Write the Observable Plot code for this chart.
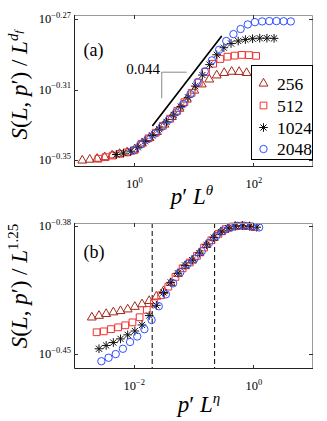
<!DOCTYPE html>
<html><head><meta charset="utf-8">
<script src="https://cdn.jsdelivr.net/npm/d3@7"></script>
<script src="https://cdn.jsdelivr.net/npm/@observablehq/plot@0.6"></script>
<style>
html,body{margin:0;padding:0;background:#fff;}
#wrap{width:327px;height:421px;overflow:hidden;background:#fff;}
#wrap svg{display:block;overflow:visible;}
</style></head><body><div id="wrap"></div>
<script>
const seriesNames = ["256", "512", "1024", "2048"];
const seriesColors = ["#a3281a", "#f03232", "#111111", "#3050ff"];

// Panel (a): log10(p' L^theta) and log10(S / L^df)
const a256x = [-0.87,-0.745,-0.62,-0.495,-0.37,-0.245,-0.12,0.005,0.13,0.255,0.38,0.505,0.63,0.755,0.88,1.005,1.13,1.255,1.38,1.505,1.63,1.755,1.88];
const a256y = [-0.3500,-0.3495,-0.3490,-0.3481,-0.3471,-0.3462,-0.3454,-0.3438,-0.3403,-0.3372,-0.3338,-0.3296,-0.3253,-0.3206,-0.3154,-0.3103,-0.3068,-0.3040,-0.3017,-0.3003,-0.2996,-0.2997,-0.3003];
const a512x = [-0.60,-0.48,-0.36,-0.24,-0.12,0.00,0.12,0.24,0.36,0.48,0.60,0.72,0.84,0.96,1.08,1.20,1.32,1.44,1.56,1.68,1.80,1.92,2.04];
const a512y = [-0.3490,-0.3481,-0.3472,-0.3462,-0.3454,-0.3442,-0.3405,-0.3374,-0.3342,-0.3303,-0.3263,-0.3218,-0.3169,-0.3116,-0.3058,-0.2997,-0.2951,-0.2924,-0.2911,-0.2905,-0.2901,-0.2902,-0.2906];
const a1024x = [-0.30,-0.18,-0.06,0.06,0.18,0.30,0.42,0.54,0.66,0.78,0.90,1.02,1.14,1.26,1.38,1.50,1.62,1.74,1.86,1.98,2.10,2.22,2.34];
const a1024y = [-0.3466,-0.3458,-0.3447,-0.3425,-0.3391,-0.3358,-0.3322,-0.3281,-0.3242,-0.3194,-0.3142,-0.3078,-0.3015,-0.2956,-0.2900,-0.2860,-0.2836,-0.2822,-0.2814,-0.2809,-0.2806,-0.2806,-0.2807];
const a2048x = [-0.02,0.10,0.22,0.34,0.46,0.58,0.70,0.82,0.94,1.06,1.18,1.30,1.42,1.54,1.66,1.78,1.90,2.02,2.14,2.26,2.38,2.50,2.62];
const a2048y = [-0.3444,-0.3411,-0.3380,-0.3348,-0.3309,-0.3268,-0.3227,-0.3179,-0.3124,-0.3055,-0.2994,-0.2932,-0.2872,-0.2822,-0.2783,-0.2754,-0.2728,-0.2715,-0.2711,-0.2709,-0.2709,-0.2710,-0.2711];

// Panel (b): log10(p' L^eta) and log10(S / L^1.25)
const b256x = [-2.71,-2.59,-2.47,-2.35,-2.23,-2.11,-1.99,-1.87,-1.75,-1.63,-1.51,-1.39,-1.27,-1.15,-1.03,-0.91,-0.79,-0.67,-0.55,-0.43,-0.31,-0.19,-0.07];
const b256y = [-0.4296,-0.4287,-0.4277,-0.4268,-0.4261,-0.4252,-0.4238,-0.4224,-0.4206,-0.4182,-0.4152,-0.4108,-0.4058,-0.4016,-0.3985,-0.3945,-0.3900,-0.3862,-0.3830,-0.3810,-0.3800,-0.3798,-0.3802];
const b512x = [-2.63,-2.51,-2.39,-2.27,-2.15,-2.03,-1.91,-1.79,-1.67,-1.55,-1.43,-1.31,-1.19,-1.07,-0.95,-0.83,-0.71,-0.59,-0.47,-0.35,-0.23,-0.11,0.01];
const b512y = [-0.4377,-0.4372,-0.4360,-0.4350,-0.4339,-0.4323,-0.4295,-0.4255,-0.4218,-0.4175,-0.4128,-0.4075,-0.4028,-0.3996,-0.3960,-0.3915,-0.3875,-0.3840,-0.3814,-0.3800,-0.3796,-0.3798,-0.3803];
const b1024x = [-2.59,-2.47,-2.35,-2.23,-2.11,-1.99,-1.87,-1.75,-1.63,-1.51,-1.39,-1.27,-1.15,-1.03,-0.91,-0.79,-0.67,-0.55,-0.43,-0.31,-0.19,-0.07,0.05];
const b1024y = [-0.4467,-0.4449,-0.4433,-0.4413,-0.4391,-0.4370,-0.4337,-0.4286,-0.4230,-0.4160,-0.4105,-0.4055,-0.4012,-0.3984,-0.3945,-0.3900,-0.3861,-0.3830,-0.3809,-0.3798,-0.3796,-0.3799,-0.3804];
const b2048x = [-2.55,-2.43,-2.31,-2.19,-2.07,-1.95,-1.83,-1.71,-1.59,-1.47,-1.35,-1.23,-1.11,-0.99,-0.87,-0.75,-0.63,-0.51,-0.39,-0.27,-0.15,-0.03,0.09];
const b2048y = [-0.4535,-0.4516,-0.4496,-0.4467,-0.4430,-0.4400,-0.4360,-0.4310,-0.4235,-0.4170,-0.4110,-0.4050,-0.4005,-0.3975,-0.3935,-0.3890,-0.3853,-0.3823,-0.3805,-0.3797,-0.3796,-0.3800,-0.3805];

// axis ticks (exponents of 10)
const aXTickExp = [0, 2];
const aYTickExp = [-0.35, -0.31, -0.27];
const bXTickExp = [-2, 0];
const bYTickExp = [-0.45, -0.38];

// annotations
const slopeLineExp = [[0.309, -0.3301], [1.457, -0.2796]];
const slopeBracketExp = [[0.869, -0.2999], [0.46, -0.2999], [0.46, -0.3144]];
const slopeLabel = {text: "0.044", x: 0.43, y: -0.2980};
const dashXExp = [-1.70, -0.655];

const pw = e => Math.pow(10, e);
const rows = (xs, ys) => xs.map((lx, i) => ({x: pw(lx), y: pw(ys[i])}));
const dataA = [rows(a256x, a256y), rows(a512x, a512y), rows(a1024x, a1024y), rows(a2048x, a2048y)];
const dataB = [rows(b256x, b256y), rows(b512x, b512y), rows(b1024x, b1024y), rows(b2048x, b2048y)];

const SERIF = "'Liberation Serif', 'Times New Roman', serif";
const expStr = e => (e < 0 ? "\u2212" + Math.abs(e) : String(e));
const fmtPow = d => "10^" + expStr(Math.round(Math.log10(d) * 100) / 100);

const markerSpec = [
  {symbol: "triangle", r: 3.3},
  {symbol: "square", r: 3.8},
  {symbol: "plus", r: 2.9},
  {symbol: "circle", r: 3.7}
];

function seriesMarks(data) {
  const out = [];
  data.forEach((d, i) => {
    const base = {x: "x", y: "y", fill: "none", stroke: seriesColors[i], strokeWidth: 1};
    if (i === 2) {
      out.push(Plot.dot(d, {...base, symbol: "plus", r: 2.9}));
      out.push(Plot.dot(d, {...base, symbol: "times", r: 2.9}));
    } else {
      out.push(Plot.dot(d, {...base, symbol: markerSpec[i].symbol, r: markerSpec[i].r}));
    }
  });
  return out;
}

function xAxis(xt) {
  return Plot.axisX(xt.map(pw), {anchor: "bottom", tickSize: 0, tickPadding: 12, fontSize: 12.5, tickFormat: fmtPow, label: null});
}

function supify(svg) {
  d3.select(svg).selectAll('g[aria-label$="tick label"] text').each(function () {
    const s = this.textContent;
    const i = s.indexOf("^");
    if (i < 0) return;
    const t = d3.select(this);
    t.text(null);
    t.append("tspan").text(s.slice(0, i));
    t.append("tspan").attr("dy", -5.5).attr("font-size", 8.5).text(s.slice(i + 1));
  });
}

function frameAndTicks(plot, m, xt, yt) {
  const svg = d3.select(plot);
  const sx = plot.scale("x"), sy = plot.scale("y");
  const x0 = m.left, x1 = m.width - m.right, y0 = m.top, y1 = m.height - m.bottom;
  const g = svg.append("g").attr("fill", "none").attr("stroke-width", 1);
  g.append("path").attr("stroke", "#999").attr("d", `M${x0},${y0 + 0.5}H${x1 - 0.5}V${y1}`);
  g.append("path").attr("stroke", "#222").attr("d", `M${x0 + 0.5},${y0}V${y1 - 0.5}H${x1}`);
  const tl = 4;
  xt.forEach(e => {
    const px = Math.round(sx.apply(pw(e))) + 0.5;
    g.append("path").attr("stroke", "#333").attr("d", `M${px},${y1}v${-tl}M${px},${y0}v${tl}`);
  });
  // y tick marks and labels (10^e with superscript)
  const lab = svg.append("g").attr("font-family", SERIF).attr("font-size", 12.5)
    .attr("text-anchor", "end").attr("fill", "black");
  yt.forEach(e => {
    const yy = sy.apply(pw(e));
    const py = Math.round(yy) + 0.5;
    g.append("path").attr("stroke", "#333").attr("d", `M${x0},${py}h${tl}M${x1},${py}h${-tl}`);
    const t = lab.append("text").attr("x", x0 - 3).attr("y", yy).attr("dy", "0.32em");
    t.append("tspan").text("10");
    t.append("tspan").attr("dy", -5.5).attr("font-size", 8.5).text(expStr(e));
  });
  return svg;
}

function richText(sel, parts) {
  parts.forEach(p => {
    const t = sel.append("tspan").text(p.t);
    if (p.i) t.attr("font-style", "italic");
    if (p.dy) t.attr("dy", p.dy);
    if (p.fs) t.attr("font-size", p.fs);
  });
}

function addLabels(svg, ylab, ypos, xlab, xpos) {
  const yl = svg.append("text").attr("transform", `translate(${ypos[0]},${ypos[1]}) rotate(-90)`)
    .attr("text-anchor", "middle").attr("font-size", 23).attr("font-family", SERIF).attr("fill", "black");
  richText(yl, ylab);
  const xl = svg.append("text").attr("x", xpos[0]).attr("y", xpos[1])
    .attr("text-anchor", "middle").attr("font-size", 23).attr("font-family", SERIF).attr("fill", "black");
  richText(xl, xlab);
}

const wrap = document.getElementById("wrap");

// ---------- Panel (a) ----------
const mA = {width: 327, height: 210, left: 74, right: 14, top: 15, bottom: 43};
const plotA = Plot.plot({
  width: mA.width, height: mA.height,
  marginLeft: mA.left, marginRight: mA.right, marginTop: mA.top, marginBottom: mA.bottom,
  style: {fontFamily: SERIF, background: "white", overflow: "visible", color: "black"},
  x: {type: "log", domain: [0.1, 1000]},
  y: {type: "log", domain: [pw(-0.35397), pw(-0.26773)], axis: null},
  marks: [
    xAxis(aXTickExp),
    Plot.line(slopeLineExp, {x: d => pw(d[0]), y: d => pw(d[1]), stroke: "black", strokeWidth: 1.7}),
    Plot.line(slopeBracketExp, {x: d => pw(d[0]), y: d => pw(d[1]), stroke: "#888", strokeWidth: 1}),
    Plot.text([slopeLabel], {x: d => pw(d.x), y: d => pw(d.y), text: "text", textAnchor: "end", fontSize: 15, fill: "black"}),
    Plot.text(["(a)"], {frameAnchor: "top-left", dx: 9, dy: 28, fontSize: 18, textAnchor: "start", fill: "black"}),
    ...seriesMarks(dataA)
  ]
});
wrap.appendChild(plotA);
supify(plotA);
const svgA = frameAndTicks(plotA, mA, aXTickExp, aYTickExp);
addLabels(svgA,
  [{t: "S", i: 1}, {t: "("}, {t: "L", i: 1}, {t: ", "}, {t: "p", i: 1}, {t: "\u2032"}, {t: ") / "}, {t: "L", i: 1},
   {t: "d", i: 1, dy: -9, fs: 15}, {t: "f", i: 1, dy: 4, fs: 11}],
  [27, 85],
  [{t: "p", i: 1}, {t: "\u2032 "}, {t: "L", i: 1}, {t: "\u03b8", i: 1, dy: -9, fs: 15}],
  [192, 204]);

// legend
const lg = svgA.append("g");
lg.append("rect").attr("x", 251.5).attr("y", 65.5).attr("width", 61).attr("height", 94)
  .attr("fill", "white").attr("stroke", "black").attr("stroke-width", 1);
const legendY = [83.5, 105.5, 127.5, 149];
const symMap = {triangle: d3.symbolTriangle, square: d3.symbolSquare, circle: d3.symbolCircle};
seriesNames.forEach((n, i) => {
  const cy = legendY[i];
  const gg = lg.append("g").attr("transform", `translate(263.5,${cy})`)
    .attr("fill", "none").attr("stroke", seriesColors[i]).attr("stroke-width", 1);
  if (i === 2) {
    gg.append("path").attr("d", d3.symbol(d3.symbolPlus, Math.PI * 2.9 * 2.9)());
    gg.append("path").attr("d", d3.symbol(d3.symbolTimes, Math.PI * 2.9 * 2.9)());
  } else {
    const sp = markerSpec[i];
    gg.append("path").attr("d", d3.symbol(symMap[sp.symbol], Math.PI * sp.r * sp.r)());
  }
  lg.append("text").attr("x", 277).attr("y", cy).attr("dy", "0.35em").attr("text-anchor", "start")
    .attr("font-family", SERIF).attr("font-size", 17.5).attr("fill", "black").text(n);
});

// ---------- Panel (b) ----------
const mB = {width: 327, height: 211, left: 74, right: 14, top: 13, bottom: 52};
const plotB = Plot.plot({
  width: mB.width, height: mB.height,
  marginLeft: mB.left, marginRight: mB.right, marginTop: mB.top, marginBottom: mB.bottom,
  style: {fontFamily: SERIF, background: "white", overflow: "visible", color: "black"},
  x: {type: "log", domain: [0.001, 10]},
  y: {type: "log", domain: [pw(-0.45801), pw(-0.37836)], axis: null},
  marks: [
    xAxis(bXTickExp),
    Plot.ruleX(dashXExp.map(pw), {stroke: "black", strokeWidth: 1, strokeDasharray: "5,3"}),
    Plot.text(["(b)"], {frameAnchor: "top-left", dx: 9, dy: 22, fontSize: 18, textAnchor: "start", fill: "black"}),
    ...seriesMarks(dataB)
  ]
});
wrap.appendChild(plotB);
supify(plotB);
const svgB = frameAndTicks(plotB, mB, bXTickExp, bYTickExp);
addLabels(svgB,
  [{t: "S", i: 1}, {t: "("}, {t: "L", i: 1}, {t: ", "}, {t: "p", i: 1}, {t: "\u2032"}, {t: ") / "}, {t: "L", i: 1},
   {t: "1.25", dy: -9, fs: 15}],
  [27, 76],
  [{t: "p", i: 1}, {t: "\u2032 "}, {t: "L", i: 1}, {t: "\u03b7", i: 1, dy: -9, fs: 15}],
  [199, 202]);
</script>
</body></html>
